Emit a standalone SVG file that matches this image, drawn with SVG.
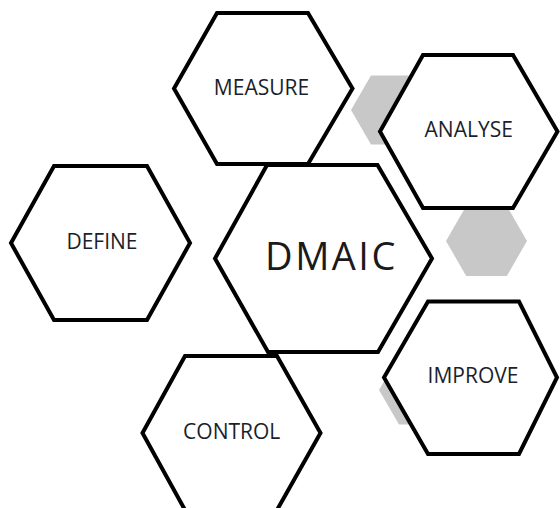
<svg xmlns="http://www.w3.org/2000/svg" width="560" height="508" viewBox="0 0 560 508">
  <style>
    .bg { fill: #ffffff; }
    .deco { fill: #c8c8c8; stroke: none; }
    .hex { fill: #ffffff; stroke: #000000; stroke-width: 4; stroke-linejoin: miter; }
    .label { font-family: "Open Sans", "Liberation Sans", sans-serif; font-size: 21px; fill: #1a1f2c; text-anchor: middle; }
    .title { font-family: "Open Sans", "Liberation Sans", sans-serif; font-size: 38px; font-weight: 400; letter-spacing: 2.5px; fill: #1a1a1a; text-anchor: middle; }
  </style>

  <rect class="bg" x="0" y="0" width="560" height="508"/>

  <!-- small grey accent hexagons, sitting behind the labelled ones -->
  <g id="accents">
    <polygon class="deco" points="351,110 371,75.4 411,75.4 431,110 411,144.6 371,144.6"/>
    <polygon class="deco" points="446,241 466.2,206 506.8,206 527,241 506.8,276 466.2,276"/>
    <polygon class="deco" points="379,390 399,355.4 439,355.4 459,390 439,424.6 399,424.6"/>
  </g>

  <g id="dmaic">
    <polygon class="hex" points="215,258.5 267,165 377.5,165 432,258.5 378,352 268,352"/>
    <text class="title" x="331.5" y="269.5">DMAIC</text>
  </g>

  <g id="measure">
    <polygon class="hex" points="174,88.5 217,13 308,13 352.5,88.5 308,164 217,164"/>
    <text class="label" x="261.5" y="95">MEASURE</text>
  </g>

  <g id="define">
    <polygon class="hex" points="11,243 54,166 147,166 190,243 147,320 54,320"/>
    <text class="label" x="102" y="249">DEFINE</text>
  </g>

  <g id="control">
    <polygon class="hex" points="142.5,433 185,356 277,356 320.5,433 277,510 185,510"/>
    <text class="label" x="231.7" y="439">CONTROL</text>
  </g>

  <g id="analyse">
    <polygon class="hex" points="380,131.5 423,55 513,55 557.5,131.5 513,208 423,208"/>
    <text class="label" x="468.7" y="136.5">ANALYSE</text>
  </g>

  <g id="improve">
    <polygon class="hex" points="384,377.5 428,301.5 519,301.5 557,377.5 519,454 428,454"/>
    <text class="label" x="473" y="383">IMPROVE</text>
  </g>
</svg>
